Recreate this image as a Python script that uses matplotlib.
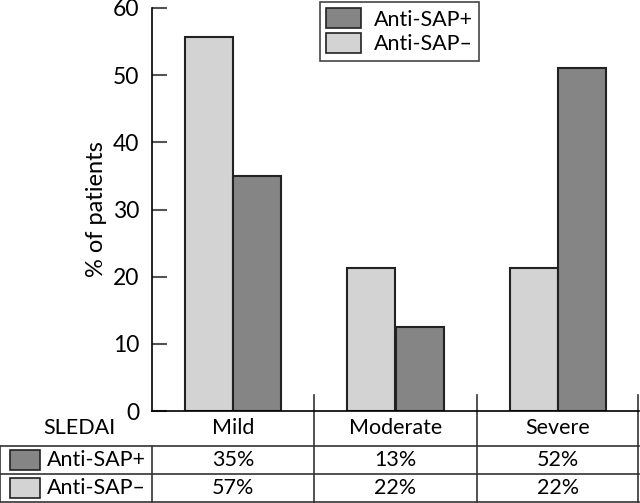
import numpy as np
import matplotlib
matplotlib.use("Agg")
import matplotlib.pyplot as plt
from matplotlib.patches import Patch, Rectangle
from matplotlib.lines import Line2D

plt.rcParams['font.family'] = ['Lato', 'DejaVu Sans']

categories = ["Mild", "Moderate", "Severe"]
neg_vals = [55.7, 21.3, 21.3]   # Anti-SAP–
pos_vals = [35.0, 12.5, 51.0]   # Anti-SAP+
pos_labels = ["35%", "13%", "52%"]
neg_labels = ["57%", "22%", "22%"]
series_names = ["Anti-SAP+", "Anti-SAP\u2013"]

dark = "#858585"
light = "#d3d3d3"

fig = plt.figure(figsize=(6.4, 5.03), dpi=100)
ax = fig.add_axes([152 / 640, 92 / 503, 487 / 640, 403 / 503])

x = np.arange(len(categories))
w = 0.296
ax.bar(x - w / 2, neg_vals, w, color=light, edgecolor="#222222", linewidth=1.5)
ax.bar(x + w / 2, pos_vals, w, color=dark, edgecolor="#222222", linewidth=1.5)

ax.set_xlim(-0.5, 2.5)
ax.set_ylim(0, 60)
ax.set_yticks(range(0, 61, 10))
ax.tick_params(axis='y', direction='in', length=11, width=1.5, color="#555555",
               labelsize=16.5, pad=9)
ax.set_xticks([])
for s in ["top", "right"]:
    ax.spines[s].set_visible(False)
ax.spines["left"].set_linewidth(1.2)
ax.spines["bottom"].set_linewidth(1.2)
ax.set_ylabel("% of patients", fontsize=17, labelpad=4)

# legend
handles = [Patch(facecolor=dark, edgecolor="#222222", linewidth=1.2),
           Patch(facecolor=light, edgecolor="#222222", linewidth=1.2)]
leg = ax.legend(handles, series_names, loc="upper left",
                bbox_to_anchor=(320 / 640, 501 / 503), bbox_transform=fig.transFigure,
                fontsize=15.5, fancybox=False, framealpha=1, edgecolor="#444444",
                borderaxespad=0, handlelength=1.6, handleheight=1.05,
                labelspacing=0.15, borderpad=0.3, handletextpad=0.6)
leg.get_frame().set_linewidth(1.2)

# table below the axes (axes fraction coordinates)
H = 403.0
r0 = 0.0
r1 = -35 / H
r2 = -63 / H
r3 = -91 / H
xl = -152 / 487
top_ext = 16 / H
tr = ax.transAxes
lc = "#333333"
lw = 1.2

def hline(y, x0, x1):
    ax.add_line(Line2D([x0, x1], [y, y], transform=tr, color=lc, lw=lw, clip_on=False))

def vline(xv, y0, y1):
    ax.add_line(Line2D([xv, xv], [y0, y1], transform=tr, color=lc, lw=lw, clip_on=False))

hline(r1, xl, 1)
hline(r2, xl, 1)
hline(r3, xl, 1)
vline(xl + 0.001, r1, r3)
vline(0, r1, r3)
for c in [1 / 3, 2 / 3, 0.9985]:
    vline(c, top_ext, r3)

fs = 15.5
ax.text(-0.075, (r0 + r1) / 2, "SLEDAI", transform=tr, ha="right", va="center", fontsize=fs)
for i, cat in enumerate(categories):
    xc = (i + 0.5) / 3
    ax.text(xc, (r0 + r1) / 2, cat, transform=tr, ha="center", va="center", fontsize=fs)
    ax.text(xc, (r1 + r2) / 2, pos_labels[i], transform=tr, ha="center", va="center", fontsize=fs)
    ax.text(xc, (r2 + r3) / 2, neg_labels[i], transform=tr, ha="center", va="center", fontsize=fs)

for (ya, yb), col, name in [((r1, r2), dark, series_names[0]), ((r2, r3), light, series_names[1])]:
    hh = (ya - yb) * 0.7
    yc = (ya + yb) / 2
    ax.add_patch(Rectangle((xl + 10 / 487, yc - hh / 2), 30 / 487, hh, transform=tr,
                           facecolor=col, edgecolor="#222222", lw=1.2, clip_on=False))
    ax.text(-0.012, yc, name, transform=tr, ha="right", va="center", fontsize=fs)

fig.savefig("out.png", dpi=100)
